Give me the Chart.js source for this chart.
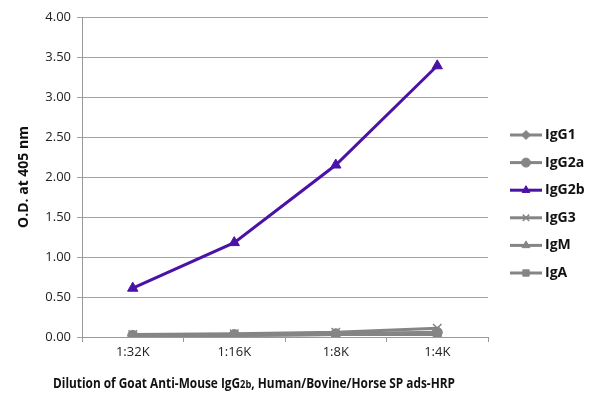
<!DOCTYPE html>
<html>
<head>
<meta charset="utf-8">
<script src="https://cdn.jsdelivr.net/npm/chart.js@4/dist/chart.umd.min.js"></script>
<style>
  html, body { margin: 0; padding: 0; background: #fff; }
  #wrap { width: 600px; height: 406px; position: relative; }
</style>
</head>
<body>
<div id="wrap"><canvas id="odChart"></canvas></div>
<script>
/* ELISA dilution curve, O.D. at 405 nm */

const dilutions = ["1:32K", "1:16K", "1:8K", "1:4K"];
const yTicks = [0, 0.5, 1, 1.5, 2, 2.5, 3, 3.5, 4];

const igg1 = [0.02, 0.03, 0.04, 0.05];
const igg2a = [0.02, 0.03, 0.04, 0.06];
const igg2b = [0.61, 1.18, 2.15, 3.39];
const igg3 = [0.03, 0.04, 0.06, 0.11];
const igm = [0.02, 0.02, 0.03, 0.04];
const iga = [0.01, 0.02, 0.03, 0.03];

const GRAY = "#858585";
const PURPLE = "#4b12a6";
const FONT = "'Open Sans', 'Noto Sans', sans-serif";

function series(label, data, color, style, radius) {
  return {
    label,
    data,
    borderColor: color,
    backgroundColor: color,
    borderWidth: 3,
    pointStyle: style,
    pointRadius: radius,
    pointBorderWidth: style === "crossRot" ? 1.5 : 1,
    tension: 0,
  };
}

// later datasets draw on top; keep the purple curve last
const datasets = [
  series("IgG1", igg1, GRAY, "rectRot", 5),
  series("IgG2a", igg2a, GRAY, "circle", 5),
  series("IgG3", igg3, GRAY, "crossRot", 6),
  series("IgM", igm, GRAY, "triangle", 5),
  series("IgA", iga, GRAY, "rect", 5),
  series("IgG2b", igg2b, PURPLE, "triangle", 6),
];
const legendOrder = ["IgG1", "IgG2a", "IgG2b", "IgG3", "IgM", "IgA"];

// legend with line + marker, and the x title with a small "2b"
const extras = {
  id: "extras",
  afterDraw(chart) {
    const ctx = chart.ctx;
    ctx.save();
    legendOrder.forEach((name, i) => {
      const ds = chart.data.datasets.find((d) => d.label === name);
      const y = 135 + i * 27.6;
      ctx.strokeStyle = ds.borderColor;
      ctx.fillStyle = ds.backgroundColor;
      ctx.lineWidth = 3;
      ctx.beginPath();
      ctx.moveTo(510, y);
      ctx.lineTo(542, y);
      ctx.stroke();
      ctx.lineWidth = ds.pointBorderWidth;
      Chart.helpers.drawPoint(ctx, {
        pointStyle: ds.pointStyle,
        radius: 4.5,
        borderWidth: ds.pointBorderWidth,
      }, 526, y);
      ctx.fillStyle = "#111";
      ctx.font = "bold 14px " + FONT;
      ctx.textBaseline = "middle";
      ctx.textAlign = "left";
      ctx.fillText(name, 545, y);
    });

    const parts = [
      ["Dilution of Goat Anti-Mouse IgG", "bold 14px " + FONT],
      ["2b", "bold 11px " + FONT],
      [", Human/Bovine/Horse SP ads-HRP", "bold 14px " + FONT],
    ];
    let total = 0;
    parts.forEach((p) => { ctx.font = p[1]; total += ctx.measureText(p[0]).width; });
    const sx = 402 / total;
    ctx.translate(254 - 201, 388);
    ctx.scale(sx, 1);
    let x = 0;
    ctx.fillStyle = "#111";
    ctx.textBaseline = "alphabetic";
    parts.forEach((p) => {
      ctx.font = p[1];
      ctx.fillText(p[0], x, 0);
      x += ctx.measureText(p[0]).width;
    });
    ctx.restore();
  },
};

const ctx = document.getElementById("odChart").getContext("2d");
new Chart(ctx, {
  type: "line",
  data: { labels: dilutions, datasets },
  plugins: [extras],
  options: {
    responsive: true,
    maintainAspectRatio: false,
    animation: false,
    layout: { padding: { top: 17, right: 112, bottom: 0, left: 0 } },
    plugins: { legend: { display: false }, tooltip: { enabled: false } },
    scales: {
      x: {
        offset: true,
        grid: { drawOnChartArea: false, offset: true, tickLength: 5, color: "#999" },
        border: { color: "#999" },
        ticks: { color: "#222", font: { size: 13, family: FONT }, padding: 2 },
        afterFit: (scale) => { scale.height = 69; },
      },
      y: {
        min: 0,
        max: 4,
        afterBuildTicks: (scale) => { scale.ticks = yTicks.map((v) => ({ value: v })); },
        grid: { color: "#a3a3a3", tickLength: 5 },
        border: { color: "#999" },
        ticks: {
          color: "#222",
          font: { size: 13, family: FONT },
          padding: 6,
          callback: (v) => Number(v).toFixed(2),
        },
        title: {
          display: true,
          text: "O.D. at 405 nm",
          color: "#111",
          font: { size: 14, weight: "bold", family: FONT },
          padding: { top: 16, bottom: 4 },
        },
        afterFit: (scale) => { scale.width = 82; },
      },
    },
  },
});
</script>
</body>
</html>
